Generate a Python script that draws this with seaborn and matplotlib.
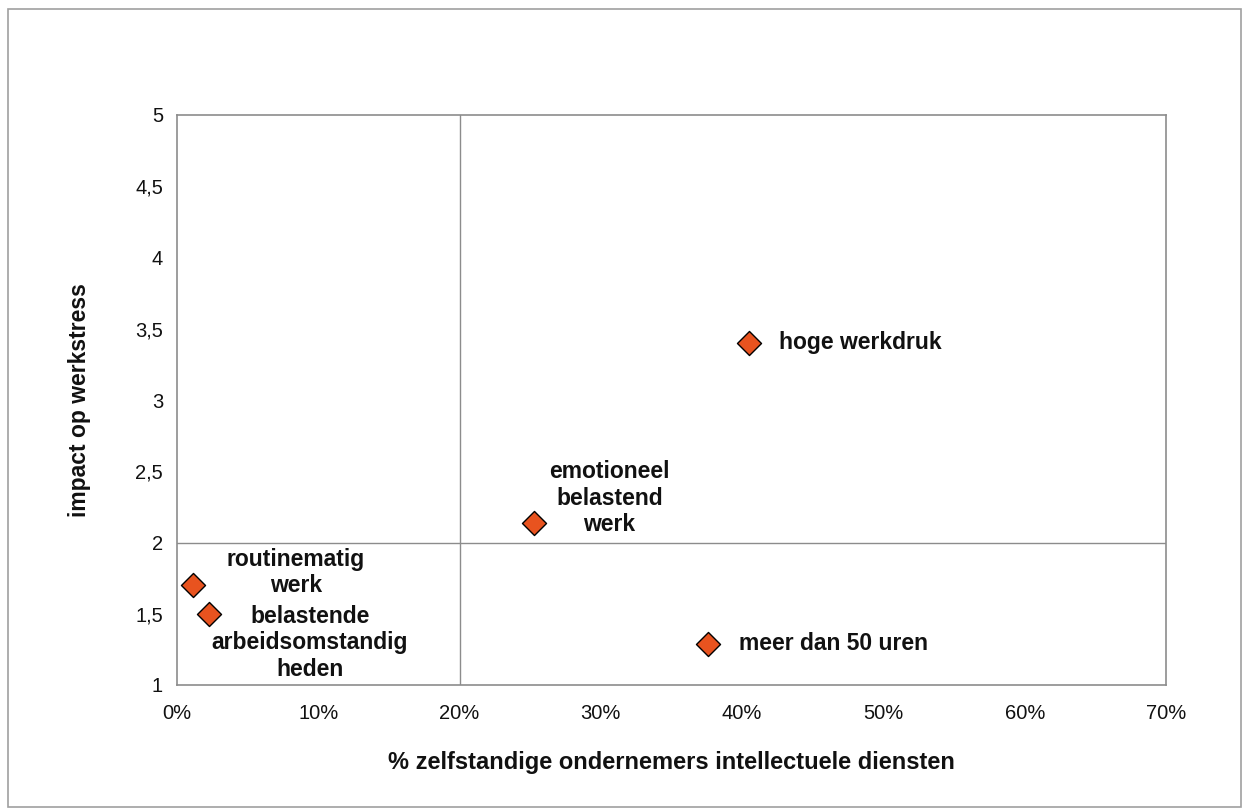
import matplotlib
matplotlib.use("Agg")
import matplotlib.pyplot as plt
import seaborn as sns
import pandas as pd
from matplotlib.patches import Rectangle

categories = ["hoge werkdruk", "emotioneel belastend werk", "meer dan 50 uren",
              "routinematig werk", "belastende arbeidsomstandigheden"]
pct_zelfstandigen = [40.5, 25.3, 37.6, 1.1, 2.3]
impact = [3.40, 2.14, 1.29, 1.70, 1.50]

label_texts = ["hoge werkdruk", "emotioneel\nbelastend\nwerk", "meer dan 50 uren",
               "routinematig\nwerk", "belastende\narbeidsomstandig\nheden"]
label_x = [42.6, 30.6, 39.8, 8.4, 9.4]
label_y = [3.40, 2.31, 1.29, 1.79, 1.295]
label_ha = ["left", "center", "left", "center", "center"]

x_ticks = [0, 10, 20, 30, 40, 50, 60, 70]
x_ticklabels = ["0%", "10%", "20%", "30%", "40%", "50%", "60%", "70%"]
y_ticks = [1, 1.5, 2, 2.5, 3, 3.5, 4, 4.5, 5]
y_ticklabels = ["1", "1,5", "2", "2,5", "3", "3,5", "4", "4,5", "5"]

sns.set_theme(style="white")
plt.rcParams["font.family"] = ["Liberation Sans", "DejaVu Sans"]

df = pd.DataFrame({"x": pct_zelfstandigen, "y": impact, "cat": categories})

fig = plt.figure(figsize=(12.42, 8.08), dpi=100)
ax = fig.add_axes([177/1242, 1-685/808, (1166-177)/1242, (685-115)/808])

ax.axvline(20, color="#8c8c8c", lw=1.0, zorder=1)
ax.axhline(2, color="#8c8c8c", lw=1.0, zorder=1)

sns.scatterplot(data=df, x="x", y="y", ax=ax, marker="D", s=150,
                color="#E8531F", edgecolor="black", linewidth=1.0, zorder=3, legend=False)

for t, lx, ly, ha in zip(label_texts, label_x, label_y, label_ha):
    ax.text(lx, ly, t, ha=ha, va="center", fontsize=16.5, fontweight="bold",
            linespacing=1.2, color="#111111")

ax.set_xlim(0, 70)
ax.set_ylim(1, 5)
ax.set_xticks(x_ticks)
ax.set_xticklabels(x_ticklabels)
ax.set_yticks(y_ticks)
ax.set_yticklabels(y_ticklabels)
ax.tick_params(axis="both", labelsize=14.5, length=0, pad=10, colors="#111111")
ax.tick_params(axis="x", pad=14)
ax.set_xlabel("% zelfstandige ondernemers intellectuele diensten", fontsize=17,
              fontweight="bold", labelpad=20, color="#111111")
ax.set_ylabel("impact op werkstress", fontsize=16.5, fontweight="bold",
              labelpad=32, color="#111111")
for s in ax.spines.values():
    s.set_color("#8c8c8c")
    s.set_linewidth(1.2)

fig.patches.append(Rectangle((8/1242, 1-807/808), 1-9/1242, 1-9/808-1/808,
                             transform=fig.transFigure, fill=False,
                             edgecolor="#a0a0a0", lw=1.2))

fig.savefig("out.png", dpi=100, facecolor="white")
